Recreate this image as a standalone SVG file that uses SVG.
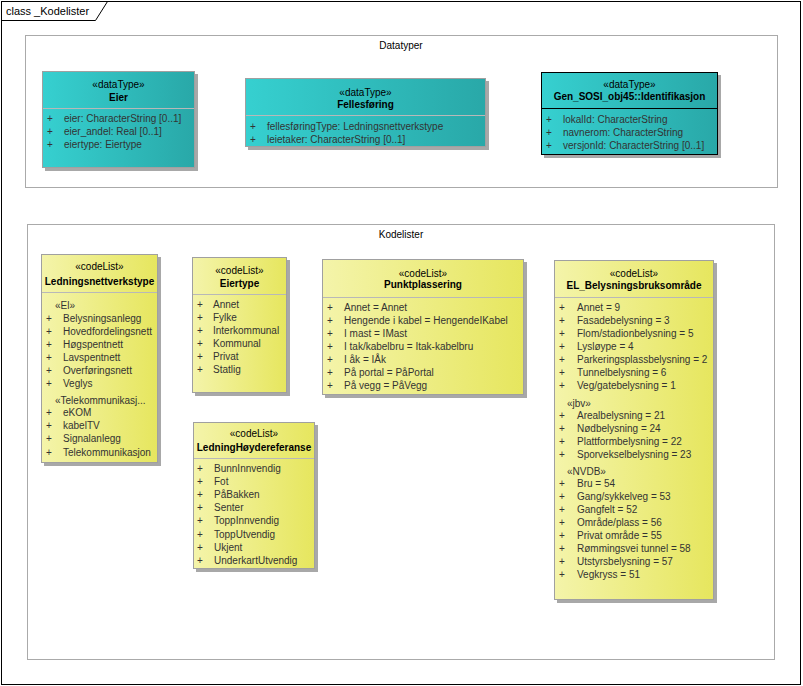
<svg xmlns="http://www.w3.org/2000/svg" width="803" height="686" viewBox="0 0 803 686">
<defs>
<linearGradient id="gT" x1="0" y1="0" x2="1" y2="0"><stop offset="0" stop-color="#36D0D0"/><stop offset="1" stop-color="#29A8A8"/></linearGradient>
<linearGradient id="gY" x1="0" y1="0" x2="1" y2="0"><stop offset="0" stop-color="#F4F4AA"/><stop offset="1" stop-color="#E6E65E"/></linearGradient>
<style>
text{font-family:"Liberation Sans",Arial,sans-serif;font-size:10px;fill:#333}
.c{text-anchor:middle;fill:#000}
.b{font-weight:bold}
.sh{fill:#A8A8A8}
.dt{fill:url(#gT);stroke:#A0A0A0;stroke-width:1}
.cl{fill:url(#gY);stroke:#A0A0A0;stroke-width:1}
.dv{stroke:#B8B8B8;stroke-width:1}
.pk{fill:none;stroke:#AAAAAA;stroke-width:1}
</style>
</defs>
<rect x="0" y="0" width="803" height="686" fill="#fff"/>
<rect x="1.5" y="1.5" width="799" height="683" fill="none" stroke="#000" stroke-width="1"/>
<path d="M1.5,20.5 H95.5 L107.5,1.5" fill="none" stroke="#000" stroke-width="1"/>
<text x="6" y="15" style="font-size:11px;fill:#000">class _Kodelister</text>

<g id="pkg-datatyper">
<rect class="pk" x="25.5" y="35.5" width="752" height="152"/>
<text class="c" x="401" y="49">Datatyper</text>
</g>
<g id="pkg-kodelister">
<rect class="pk" x="27.5" y="224.5" width="747" height="435"/>
<text class="c" x="401" y="238">Kodelister</text>
</g>

<g id="Eier">
<rect class="sh" x="45" y="74" width="153" height="97"/>
<rect class="dt" x="42.5" y="71.5" width="152" height="96"/>
<line class="dv" x1="43" y1="108.5" x2="194" y2="108.5"/>
<text class="c" x="118.5" y="88">«dataType»</text>
<text class="c b" x="118.5" y="101">Eier</text>
<text x="47" y="122">+</text><text x="64" y="122">eier: CharacterString [0..1]</text>
<text x="47" y="135">+</text><text x="64" y="135">eier_andel: Real [0..1]</text>
<text x="47" y="148">+</text><text x="64" y="148">eiertype: Eiertype</text>
</g>

<g id="Fellesforing">
<rect class="sh" x="248" y="81" width="241" height="69"/>
<rect class="dt" x="245.5" y="78.5" width="240" height="68"/>
<line class="dv" x1="246" y1="115.5" x2="485" y2="115.5"/>
<text class="c" x="365.5" y="96">«dataType»</text>
<text class="c b" x="365.5" y="108">Fellesføring</text>
<text x="250" y="130">+</text><text x="267" y="130">fellesføringType: Ledningsnettverkstype</text>
<text x="250" y="143">+</text><text x="267" y="143">leietaker: CharacterString [0..1]</text>
</g>

<g id="Identifikasjon">
<rect class="sh" x="544" y="75" width="177" height="83"/>
<rect x="541.5" y="72.5" width="176" height="82" fill="url(#gT)" stroke="#000" stroke-width="1"/>
<line x1="542" y1="108.5" x2="717" y2="108.5" stroke="#000" stroke-width="1"/>
<text class="c" x="629.5" y="88">«dataType»</text>
<text class="c b" x="629.5" y="100">Gen_SOSI_obj45::Identifikasjon</text>
<text x="546" y="123">+</text><text x="563" y="123">lokalId: CharacterString</text>
<text x="546" y="136">+</text><text x="563" y="136">navnerom: CharacterString</text>
<text x="546" y="149">+</text><text x="563" y="149">versjonId: CharacterString [0..1]</text>
</g>

<g id="Ledningsnettverkstype">
<rect class="sh" x="44" y="257" width="117" height="209"/>
<rect class="cl" x="41.5" y="254.5" width="116" height="208"/>
<line class="dv" x1="42" y1="292.5" x2="157" y2="292.5"/>
<text class="c" x="99.5" y="270">«codeList»</text>
<text class="c b" x="99.5" y="285">Ledningsnettverkstype</text>
<text x="55" y="309">«El»</text>
<text x="46" y="322">+</text><text x="63" y="322">Belysningsanlegg</text>
<text x="46" y="335">+</text><text x="63" y="335">Hovedfordelingsnett</text>
<text x="46" y="348">+</text><text x="63" y="348">Høgspentnett</text>
<text x="46" y="361">+</text><text x="63" y="361">Lavspentnett</text>
<text x="46" y="374">+</text><text x="63" y="374">Overføringsnett</text>
<text x="46" y="387">+</text><text x="63" y="387">Veglys</text>
<text x="55" y="404">«Telekommunikasj...</text>
<text x="46" y="416">+</text><text x="63" y="416">eKOM</text>
<text x="46" y="429">+</text><text x="63" y="429">kabelTV</text>
<text x="46" y="442">+</text><text x="63" y="442">Signalanlegg</text>
<text x="46" y="456">+</text><text x="63" y="456">Telekommunikasjon</text>
</g>

<g id="Eiertype">
<rect class="sh" x="195" y="260" width="95" height="136"/>
<rect class="cl" x="192.5" y="257.5" width="94" height="135"/>
<line class="dv" x1="193" y1="294.5" x2="286" y2="294.5"/>
<text class="c" x="239.5" y="274">«codeList»</text>
<text class="c b" x="239.5" y="287">Eiertype</text>
<text x="197" y="308">+</text><text x="213" y="308">Annet</text>
<text x="197" y="321">+</text><text x="213" y="321">Fylke</text>
<text x="197" y="334">+</text><text x="213" y="334">Interkommunal</text>
<text x="197" y="347">+</text><text x="213" y="347">Kommunal</text>
<text x="197" y="360">+</text><text x="213" y="360">Privat</text>
<text x="197" y="373">+</text><text x="213" y="373">Statlig</text>
</g>

<g id="LedningHoydereferanse">
<rect class="sh" x="196" y="425" width="122" height="147"/>
<rect class="cl" x="193.5" y="422.5" width="121" height="146"/>
<line class="dv" x1="194" y1="458.5" x2="314" y2="458.5"/>
<text class="c" x="254" y="437">«codeList»</text>
<text class="c b" x="254" y="451">LedningHøydereferanse</text>
<text x="197" y="472">+</text><text x="214" y="472">BunnInnvendig</text>
<text x="197" y="485">+</text><text x="214" y="485">Fot</text>
<text x="197" y="498">+</text><text x="214" y="498">PåBakken</text>
<text x="197" y="511">+</text><text x="214" y="511">Senter</text>
<text x="197" y="524">+</text><text x="214" y="524">ToppInnvendig</text>
<text x="197" y="538">+</text><text x="214" y="538">ToppUtvendig</text>
<text x="197" y="551">+</text><text x="214" y="551">Ukjent</text>
<text x="197" y="564">+</text><text x="214" y="564">UnderkartUtvendig</text>
</g>

<g id="Punktplassering">
<rect class="sh" x="325" y="262" width="202" height="136"/>
<rect class="cl" x="322.5" y="259.5" width="201" height="135"/>
<line class="dv" x1="323" y1="297.5" x2="523" y2="297.5"/>
<text class="c" x="423" y="277">«codeList»</text>
<text class="c b" x="423" y="288">Punktplassering</text>
<text x="327" y="311">+</text><text x="344" y="311">Annet = Annet</text>
<text x="327" y="324">+</text><text x="344" y="324">Hengende i kabel = HengendeIKabel</text>
<text x="327" y="337">+</text><text x="344" y="337">I mast = IMast</text>
<text x="327" y="350">+</text><text x="344" y="350">I tak/kabelbru = Itak-kabelbru</text>
<text x="327" y="363">+</text><text x="344" y="363">I åk = IÅk</text>
<text x="327" y="376">+</text><text x="344" y="376">På portal = PåPortal</text>
<text x="327" y="389">+</text><text x="344" y="389">På vegg = PåVegg</text>
</g>

<g id="EL_Belysningsbruksomrade">
<rect class="sh" x="557" y="263" width="160" height="340"/>
<rect class="cl" x="554.5" y="260.5" width="159" height="339"/>
<line class="dv" x1="555" y1="297.5" x2="713" y2="297.5"/>
<text class="c" x="634" y="277">«codeList»</text>
<text class="c b" x="634" y="289">EL_Belysningsbruksområde</text>
<text x="559" y="311">+</text><text x="577" y="311">Annet = 9</text>
<text x="559" y="324">+</text><text x="577" y="324">Fasadebelysning = 3</text>
<text x="559" y="337">+</text><text x="577" y="337">Flom/stadionbelysning = 5</text>
<text x="559" y="350">+</text><text x="577" y="350">Lysløype = 4</text>
<text x="559" y="363">+</text><text x="577" y="363">Parkeringsplassbelysning = 2</text>
<text x="559" y="376">+</text><text x="577" y="376">Tunnelbelysning = 6</text>
<text x="559" y="389">+</text><text x="577" y="389">Veg/gatebelysning = 1</text>
<text x="567" y="407">«jbv»</text>
<text x="559" y="419">+</text><text x="577" y="419">Arealbelysning = 21</text>
<text x="559" y="432">+</text><text x="577" y="432">Nødbelysning = 24</text>
<text x="559" y="445">+</text><text x="577" y="445">Plattformbelysning = 22</text>
<text x="559" y="458">+</text><text x="577" y="458">Sporvekselbelysning = 23</text>
<text x="567" y="475">«NVDB»</text>
<text x="559" y="487">+</text><text x="577" y="487">Bru = 54</text>
<text x="559" y="500">+</text><text x="577" y="500">Gang/sykkelveg = 53</text>
<text x="559" y="513">+</text><text x="577" y="513">Gangfelt = 52</text>
<text x="559" y="526">+</text><text x="577" y="526">Område/plass = 56</text>
<text x="559" y="539">+</text><text x="577" y="539">Privat område = 55</text>
<text x="559" y="552">+</text><text x="577" y="552">Rømmingsvei tunnel = 58</text>
<text x="559" y="565">+</text><text x="577" y="565">Utstyrsbelysning = 57</text>
<text x="559" y="578">+</text><text x="577" y="578">Vegkryss = 51</text>
</g>

<g id="connectors"></g>
</svg>
